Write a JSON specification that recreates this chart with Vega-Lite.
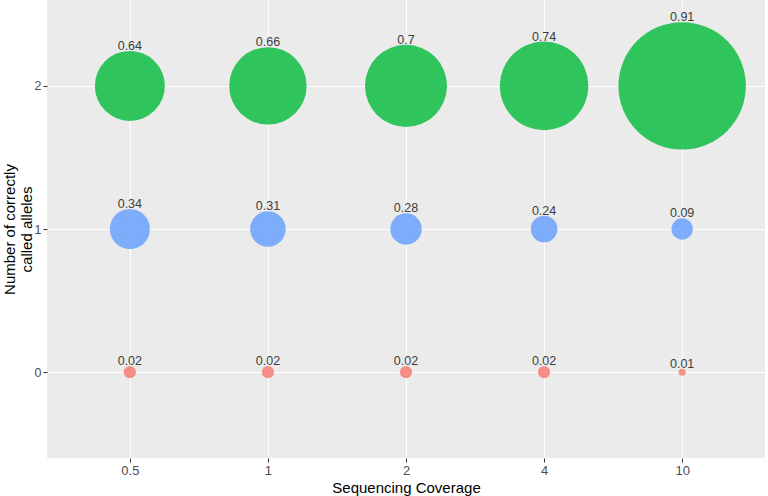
{
  "$schema": "https://vega.github.io/schema/vega-lite/v6.json",
  "width": 718,
  "height": 458,
  "autosize": {"type": "none"},
  "padding": {"left": 47, "top": 0, "right": 3, "bottom": 38},
  "background": "white",
  "data": {
    "values": [
      {"coverage": "0.5", "alleles": 2, "prop": 0.64},
      {"coverage": "1", "alleles": 2, "prop": 0.66},
      {"coverage": "2", "alleles": 2, "prop": 0.70},
      {"coverage": "4", "alleles": 2, "prop": 0.74},
      {"coverage": "10", "alleles": 2, "prop": 0.91},
      {"coverage": "0.5", "alleles": 1, "prop": 0.34},
      {"coverage": "1", "alleles": 1, "prop": 0.31},
      {"coverage": "2", "alleles": 1, "prop": 0.28},
      {"coverage": "4", "alleles": 1, "prop": 0.24},
      {"coverage": "10", "alleles": 1, "prop": 0.09},
      {"coverage": "0.5", "alleles": 0, "prop": 0.02},
      {"coverage": "1", "alleles": 0, "prop": 0.02},
      {"coverage": "2", "alleles": 0, "prop": 0.02},
      {"coverage": "4", "alleles": 0, "prop": 0.02},
      {"coverage": "10", "alleles": 0, "prop": 0.01}
    ]
  },
  "encoding": {
    "x": {
      "field": "coverage",
      "type": "ordinal",
      "sort": ["0.5", "1", "2", "4", "10"],
      "scale": {"type": "point", "padding": 0.6},
      "axis": {"title": "Sequencing Coverage", "labelAngle": 0, "labelPadding": 2, "titlePadding": 3}
    },
    "y": {
      "field": "alleles",
      "type": "quantitative",
      "scale": {"domain": [-0.6, 2.6], "nice": false, "zero": false},
      "axis": {"title": ["Number of correctly", "called alleles"], "values": [0, 1, 2], "labelPadding": 2, "labelFontSize": 12.5, "titlePadding": -0.5, "titleLineHeight": 17}
    }
  },
  "layer": [
    {
      "mark": {"type": "circle", "opacity": 0.8},
      "encoding": {
        "size": {
          "field": "prop",
          "type": "quantitative",
          "legend": null,
          "scale": {
            "type": "linear",
            "zero": false,
            "nice": false,
            "domain": [0.01, 0.02, 0.09, 0.24, 0.28, 0.31, 0.34, 0.64, 0.66, 0.70, 0.74, 0.91],
            "range": [49, 148.8, 458, 707.6, 986, 1267.4, 1600, 4900, 5990.8, 6724, 7850, 16230.8]
          }
        },
        "color": {
          "field": "alleles",
          "type": "nominal",
          "legend": null,
          "scale": {"domain": [0, 1, 2], "range": ["#F8766D", "#619CFF", "#00BA38"]}
        }
      }
    },
    {
      "mark": {"type": "text", "baseline": "alphabetic", "align": "center", "fontSize": 12.5, "font": "Liberation Sans", "color": "#3d3d3d"},
      "encoding": {
        "text": {"field": "prop", "type": "nominal"},
        "radius": {
          "field": "prop",
          "type": "quantitative",
          "scale": {
            "type": "linear",
            "zero": false,
            "nice": false,
            "domain": [0.01, 0.02, 0.09, 0.24, 0.28, 0.31, 0.34, 0.64, 0.66, 0.70, 0.74, 0.91],
            "range": [4.5, 7.1, 11.7, 14.3, 16.7, 18.8, 21, 36, 39.7, 42, 45.3, 64.7]
          }
        }
      }
    }
  ],
  "config": {
    "view": {"fill": "#EBEBEB", "stroke": null},
    "font": "Liberation Sans",
    "axis": {
      "domain": false,
      "grid": true,
      "gridColor": "#FFFFFF",
      "gridWidth": 1.1,
      "tickColor": "#333333",
      "tickSize": 4,
      "tickWidth": 1,
      "labelColor": "#4D4D4D",
      "labelFontSize": 13,
      "labelFont": "Liberation Sans",
      "titleFont": "Liberation Sans",
      "titleFontSize": 15,
      "titleFontWeight": "normal",
      "titleColor": "#000000"
    }
  }
}
